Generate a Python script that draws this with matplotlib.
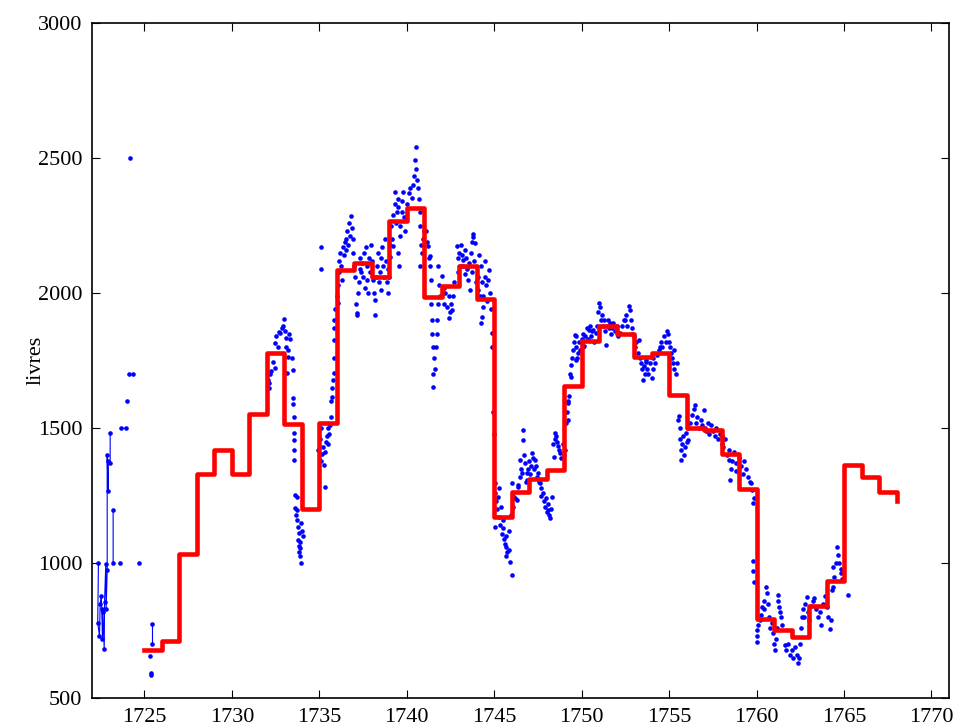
"""Grain price in livres: weekly market quotes (blue dots) against annual averages (red stairs)."""
import numpy as np
import matplotlib
matplotlib.use("Agg")
import matplotlib.pyplot as plt

# annual average, one value per year starting 1725; last entry is the closing point at 1768
year_start = list(range(1725, 1769))
annual = [680, 712, 1033, 1330, 1420, 1330, 1552, 1778, 1517, 1202,
          1520, 2085, 2110, 2058, 2268, 2316, 1985, 2027, 2100, 1980,
          1172, 1262, 1312, 1347, 1657, 1822, 1877, 1850, 1762, 1780,
          1624, 1500, 1495, 1405, 1275, 792, 752, 726, 840, 935,
          1365, 1320, 1262, 1232]

# early sparse quotes, joined by a thin line (None = break)
early_t = [1722.37, 1722.33, 1722.43, 1722.47, 1722.53, 1722.56, 1722.60, 1722.62,
           1722.70, 1722.72, 1722.79, 1722.81, 1722.87, 1722.87, 1722.92, 1722.94,
           1723.04, 1723.04, None,
           1723.21, 1723.21, None,
           1723.61, None,
           1723.66, 1723.93, None,
           1724.03, None,
           1724.09, 1724.32, None,
           1724.18, None,
           1724.69, None,
           1725.46, 1725.46, None,
           1725.30, None,
           1725.37, 1725.37]
early_v = [1000, 780, 731, 850, 879, 830, 719, 821,
           684, 858, 998, 830, 974, 1399, 1269, 1380,
           1370, 1484, None,
           1198, 1000, None,
           1000, None,
           1500, 1500, None,
           1600, None,
           1699, 1699, None,
           2500, None,
           1000, None,
           775, 700, None,
           655, None,
           592, 585]

# dense quotes 1732-1765
quote_t = [
    1732.07, 1732.10, 1732.15, 1732.20, 1732.22, 1732.35, 1732.47, 1732.47, 1732.55, 1732.62,
    1732.70, 1732.76, 1732.85, 1732.92, 1732.96, 1733.02, 1733.08, 1733.12, 1733.14, 1733.18,
    1733.23, 1733.28, 1733.35, 1733.43, 1733.48, 1733.48, 1733.52, 1733.57, 1733.57, 1733.57,
    1733.55, 1733.55,
    1733.62, 1733.70, 1733.62, 1733.70, 1733.75, 1733.80, 1733.85, 1733.78, 1733.82, 1733.88,
    1733.90, 1733.95, 1733.85, 1733.92, 1734.00, 1734.05, 1733.98, 1733.68,
    1734.95, 1735.05, 1735.10, 1735.12, 1735.18, 1735.22, 1735.27, 1735.30, 1735.33, 1735.38,
    1735.42, 1735.48, 1735.52, 1735.58, 1735.62, 1735.65, 1735.68, 1735.71, 1735.75, 1735.78,
    1735.81, 1735.81, 1735.81, 1735.84, 1735.85, 1735.92, 1736.00, 1736.09, 1735.10, 1735.10,
    1736.05, 1736.10, 1736.15, 1736.20, 1736.25, 1736.30, 1736.35, 1736.40, 1736.45, 1736.50,
    1736.55, 1736.60, 1736.65, 1736.70, 1736.75, 1736.80, 1736.85, 1736.90, 1736.95, 1737.00,
    1737.05, 1737.10, 1737.15, 1737.17, 1737.20, 1737.25, 1737.30, 1737.35, 1737.40, 1737.45,
    1737.50, 1737.55, 1737.60, 1737.65, 1737.70, 1737.75, 1737.80, 1737.85, 1737.90, 1737.95,
    1738.00, 1738.05, 1738.10, 1738.18, 1738.18, 1738.25, 1738.30, 1738.35, 1738.40, 1738.45,
    1738.50, 1738.55, 1738.60, 1738.65, 1738.70, 1738.75, 1738.80, 1738.85, 1738.90, 1738.95,
    1739.00, 1739.04,
    1739.05, 1739.10, 1739.15, 1739.20, 1739.24, 1739.30, 1739.33, 1739.40, 1739.45, 1739.50,
    1739.52, 1739.52, 1739.55, 1739.60, 1739.61, 1739.70, 1739.75, 1739.81, 1739.85, 1739.90,
    1740.00, 1740.10, 1740.20, 1740.28, 1740.35, 1740.40, 1740.45, 1740.50, 1740.55, 1740.60,
    1740.65, 1740.70, 1740.75,
    1740.75, 1740.80, 1740.75, 1740.85, 1740.90, 1741.00, 1741.10, 1741.15, 1741.20, 1741.25,
    1741.30, 1741.35, 1741.40, 1741.40, 1741.42, 1741.45, 1741.50, 1741.55, 1741.52, 1741.50,
    1741.60, 1741.65, 1741.70, 1741.75, 1741.78, 1741.80, 1741.85, 1741.90, 1742.00, 1742.10,
    1742.15, 1742.20, 1742.30, 1742.40, 1742.45, 1742.40, 1742.50, 1742.60, 1742.65, 1742.70,
    1742.85, 1742.90, 1742.95, 1743.00, 1743.05, 1743.10, 1743.15, 1743.20, 1743.24, 1743.30,
    1743.35, 1743.40, 1743.45, 1743.50, 1743.55, 1743.60, 1743.65, 1743.70, 1743.75, 1743.80,
    1743.80, 1743.85, 1743.90, 1743.95,
    1744.05, 1744.10, 1744.15, 1744.20, 1744.27, 1744.30, 1744.35, 1744.37, 1744.45, 1744.50,
    1744.55, 1744.60, 1744.65, 1744.70, 1744.75, 1744.80, 1744.27, 1744.30, 1744.85, 1744.90,
    1744.95, 1744.97,
    1745.02, 1745.04, 1745.10, 1745.15, 1745.20, 1745.30, 1745.40, 1745.04, 1745.25, 1745.35,
    1745.45, 1745.50, 1745.50, 1745.55, 1745.60, 1745.66, 1745.66, 1745.70, 1745.75, 1745.83,
    1745.90, 1745.99, 1745.85, 1745.95, 1746.00, 1746.05, 1746.10,
    1746.20, 1746.30, 1746.35, 1746.38, 1746.45, 1746.50, 1746.55, 1746.60, 1746.66, 1746.66,
    1746.70, 1746.75, 1746.80, 1746.85, 1746.90, 1746.95, 1747.00, 1747.05, 1747.10, 1747.14,
    1747.20, 1747.25, 1747.33, 1747.40, 1747.45, 1747.50, 1747.55, 1747.60, 1747.65,
    1747.70, 1747.81, 1747.85, 1747.90, 1747.95, 1748.00, 1748.05, 1748.10, 1748.15, 1748.20,
    1748.25, 1748.30,
    1748.35, 1748.40, 1748.45, 1748.50, 1748.55, 1748.60, 1748.66, 1748.70, 1748.75, 1748.80,
    1748.95, 1749.00, 1749.05, 1749.10, 1749.15, 1749.20, 1749.23, 1749.23, 1749.30, 1749.35,
    1749.40, 1749.40, 1749.45, 1749.50, 1749.55, 1749.60, 1749.65, 1749.70, 1749.70, 1749.75,
    1749.80, 1749.85, 1749.90, 1750.00, 1750.05, 1750.10, 1750.15, 1750.20, 1750.30, 1750.35,
    1750.43, 1750.50, 1750.55, 1750.60, 1750.66, 1750.70, 1750.80, 1750.90,
    1750.95, 1751.00, 1751.05, 1751.10, 1751.15, 1751.20, 1751.30, 1751.35, 1751.40, 1751.45,
    1751.50, 1751.55, 1751.60, 1751.70, 1751.75, 1751.80, 1751.90, 1752.00, 1752.10, 1752.20,
    1752.30, 1752.40, 1752.50, 1752.55, 1752.60, 1752.70, 1752.75, 1752.80, 1752.85, 1752.90,
    1753.00, 1753.05, 1753.10, 1753.20, 1753.30, 1753.35, 1753.40, 1753.45, 1753.50, 1753.55,
    1753.60, 1753.65, 1753.70, 1753.75, 1753.80, 1753.90, 1754.00, 1754.05, 1754.10, 1754.20,
    1754.30, 1754.40, 1754.50, 1754.55, 1754.60, 1754.70, 1754.80, 1754.90, 1754.95, 1755.00,
    1755.05, 1755.10, 1755.15, 1755.20, 1755.25, 1755.30, 1755.40, 1755.45,
    1755.50, 1755.57, 1755.60, 1755.62, 1755.66, 1755.70, 1755.75, 1755.80, 1755.85, 1755.90,
    1755.95, 1756.00, 1756.05, 1756.10, 1756.20, 1756.30, 1756.40, 1756.50, 1756.55, 1756.60,
    1756.70, 1756.80, 1756.90, 1757.00, 1757.05, 1757.10, 1757.20, 1757.30, 1757.40, 1757.50,
    1757.60, 1757.70, 1757.80, 1757.90, 1758.00,
    1758.05, 1758.10, 1758.20, 1758.30, 1758.40, 1758.45, 1758.50, 1758.55, 1758.60, 1758.70,
    1758.80, 1758.85, 1759.00, 1759.10, 1759.20, 1759.30, 1759.40, 1759.50, 1759.60, 1759.70,
    1759.75, 1759.80, 1759.85,
    1759.80, 1759.82, 1759.85, 1760.00, 1760.02, 1760.05, 1760.10, 1760.20, 1760.25, 1760.30,
    1760.40, 1760.45, 1760.53, 1760.60, 1760.65, 1760.70, 1760.75, 1760.90, 1760.95, 1761.00,
    1761.05, 1761.10, 1761.15, 1761.20, 1761.25, 1761.30, 1761.35, 1761.40, 1761.45,
    1761.60, 1761.70, 1761.80, 1761.90, 1762.00, 1762.10, 1762.20, 1762.30, 1762.37, 1762.45,
    1762.50, 1762.55,
    1762.60, 1762.65, 1762.70, 1762.75, 1762.87, 1762.95, 1763.00, 1763.10, 1763.20, 1763.30,
    1763.40, 1763.50, 1763.60, 1763.70, 1763.80, 1763.90, 1764.00, 1764.10, 1764.20, 1764.25,
    1764.30, 1764.35, 1764.35, 1764.45, 1764.55, 1764.60, 1764.65, 1764.70, 1764.80, 1764.85,
    1764.90, 1765.23,
]
quote_v = [
    1678, 1650, 1667, 1700, 1712, 1745, 1722, 1817, 1840, 1800,
    1855, 1854, 1870, 1880, 1904, 1860, 1835, 1800, 1704, 1790,
    1765, 1850, 1830, 1760, 1716, 1612, 1590, 1543, 1481, 1455,
    1420, 1383,
    1253, 1246, 1205, 1197, 1160, 1136, 1111, 1086, 1062, 1056,
    1025, 1000, 1040, 1080, 1120, 1100, 1150, 1180,
    1420, 1460, 1500, 1380, 1403, 1430, 1364, 1410, 1284, 1450,
    1470, 1440, 1500, 1477, 1510, 1540, 1600, 1617, 1650, 1680,
    1703, 1760, 1827, 1870, 1900, 1940, 1990, 1963, 2170, 2090,
    2030, 2080, 2120, 2150, 2100, 2050, 2170, 2140, 2190, 2160,
    2200, 2230, 2180, 2260, 2210, 2285, 2240, 2200, 2150, 2100,
    2060, 1960, 1920, 1927, 2000, 2040, 2090, 2130, 2080, 2110,
    2060, 2150, 2020, 2170, 2100, 2050, 2000, 2130, 2080, 2180,
    2120, 2050, 2000, 1975, 1920, 2060, 2100, 2150, 2040, 2080,
    2130, 2010, 2170, 2100, 2060, 2200, 2120, 2040, 2090, 2000,
    2060, 2134,
    2180, 2250, 2200, 2290, 2173, 2330, 2376, 2260, 2300, 2350,
    2320, 2148, 2100, 2210, 2250, 2300, 2340, 2376, 2280, 2230,
    2330, 2370, 2390, 2352, 2400, 2432, 2494, 2541, 2460, 2420,
    2389, 2350, 2300,
    2247, 2180, 2099, 2150, 2200, 2230, 2229, 2190, 2173, 2130,
    2136, 2100, 2050, 1960, 1900, 1850, 1800, 1760, 1700, 1653,
    1720, 1800, 1850, 1900, 1960, 2099, 2030, 1990, 2062, 2020,
    1960, 2000, 1950, 1988, 1930, 1907, 1960, 1938, 1990, 2040,
    2173, 2130, 2080, 2150, 2099, 2180, 2140, 2100, 2123, 2160,
    2070, 2130, 2090, 2050, 2110, 2012, 2150, 2190, 2080, 2207,
    2220, 2120, 2186, 2040,
    2060, 2010, 2140, 1990, 2099, 2040, 1950, 1988, 2060, 2120,
    2030, 1970, 2050, 2087, 2000, 1940, 1889, 1910, 1852, 1800,
    1560, 1480,
    1296, 1260, 1230, 1200, 1247, 1280, 1210, 1136, 1170, 1140,
    1110, 1161, 1130, 1090, 1070, 1099, 1025, 1060, 1040, 1050,
    1006, 957, 1120, 1180, 1296, 1210, 1250,
    1240, 1235, 1290, 1284, 1320, 1383, 1350, 1333, 1494, 1457,
    1400, 1370, 1300, 1333, 1310, 1350, 1380, 1330, 1360, 1407,
    1390, 1350, 1383, 1360, 1320, 1333, 1300, 1296, 1280,
    1250, 1259, 1230, 1210, 1240, 1190, 1220, 1198, 1180, 1167,
    1200, 1247,
    1440, 1395, 1460, 1482, 1470, 1450, 1433, 1420, 1407, 1390,
    1440, 1400, 1420, 1520, 1560, 1600, 1593, 1531, 1620, 1700,
    1735, 1691, 1760, 1790, 1820, 1846, 1800, 1840, 1753, 1760,
    1778, 1820, 1790, 1830, 1800, 1850, 1803, 1840, 1870, 1830,
    1865, 1880, 1840, 1860, 1864, 1820, 1852, 1880,
    1930, 1963, 1950, 1901, 1920, 1880, 1900, 1860, 1809, 1880,
    1900, 1870, 1889, 1850, 1870, 1890, 1860, 1880, 1840, 1852,
    1880, 1900, 1901, 1920, 1880, 1951, 1938, 1900, 1870, 1850,
    1840, 1800, 1820, 1780, 1827, 1760, 1740, 1720, 1679, 1730,
    1700, 1745, 1753, 1720, 1700, 1740, 1685, 1720, 1760, 1740,
    1770, 1790, 1800, 1820, 1800, 1840, 1820, 1858, 1850, 1820,
    1800, 1780, 1760, 1740, 1790, 1720, 1700, 1740,
    1530, 1544, 1500, 1460, 1383, 1420, 1440, 1470, 1400, 1430,
    1481, 1450, 1500, 1457, 1520, 1550, 1570, 1587, 1520, 1540,
    1500, 1530, 1510, 1568, 1500, 1490, 1520, 1480, 1510, 1490,
    1470, 1500, 1460, 1480, 1440,
    1470, 1430, 1460, 1400, 1383, 1420, 1309, 1350, 1380, 1410,
    1370, 1340, 1390, 1360, 1330, 1380, 1350, 1320, 1300, 1296,
    1270, 1222, 1240,
    1010, 970, 930, 753, 710, 730, 770, 790, 810, 839,
    860, 830, 913, 888, 850, 800, 760, 777, 740, 700,
    680, 720, 760, 882, 860, 839, 820, 802, 770,
    698, 680, 700, 660, 679, 650, 690, 660, 630, 650,
    700, 760,
    800, 830, 802, 850, 876, 820, 790, 840, 860, 870,
    830, 800, 820, 771, 850, 880, 839, 800, 758, 790,
    900, 913, 987, 950, 1000, 1060, 1030, 1000, 980, 963,
    940, 882,
]

plt.rcParams["font.family"] = ["Liberation Serif", "DejaVu Serif"]
plt.rcParams["font.size"] = 16

fig = plt.figure(figsize=(9.55, 7.28), dpi=100)
ax = fig.add_axes([0.0963, 0.0408, 0.8974, 0.9276])

et = np.array([np.nan if t is None else t for t in early_t], dtype=float)
ev = np.array([np.nan if v is None else v for v in early_v], dtype=float)
ax.plot(et, ev, "-", color="b", lw=0.8, marker="o", ms=3.3, mec="none", zorder=2)
ax.plot(quote_t, quote_v, "o", color="b", ms=3.3, mec="none", zorder=2)

ax.step(year_start, annual, where="post", color="r", lw=3.3, zorder=3)

ax.set_xlim(1722, 1771)
ax.set_ylim(500, 3000)
ax.set_xticks(np.arange(1725, 1771, 5))
ax.set_yticks(np.arange(500, 3001, 500))
ax.tick_params(direction="in", length=6, width=0.8, top=True, right=True,
               labelsize=16, pad=7)
for s in ax.spines.values():
    s.set_linewidth(1.2)
ax.set_ylabel("livres", fontsize=16, labelpad=-6)

fig.savefig("out.png", dpi=100)
